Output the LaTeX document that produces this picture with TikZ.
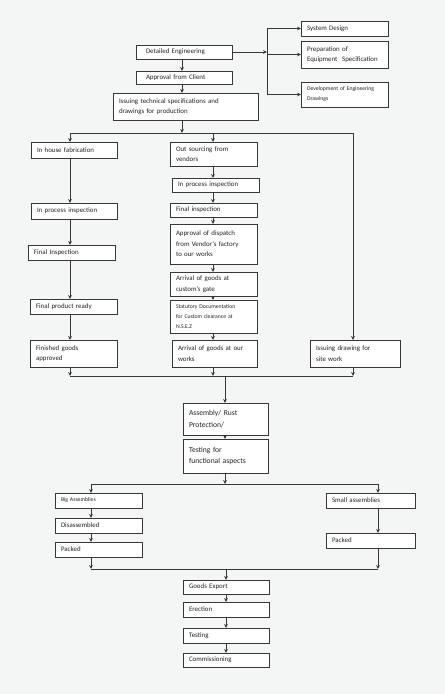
\documentclass[tikz,border=0pt]{standalone}
\usepackage{fontspec}
\setmainfont{Carlito}
\usetikzlibrary{arrows.meta}
\definecolor{bg}{RGB}{244,245,245}
\definecolor{lnc}{RGB}{55,55,55}
\definecolor{txc}{RGB}{35,35,35}
\tikzset{
  box/.style={draw=lnc, line width=0.7pt, fill=white, align=left, inner xsep=6pt,
    inner ysep=1pt, outer sep=0pt, font=\fontsize{6.9}{10.5}\selectfont, text=txc},
  smallfont/.style={font=\fontsize{5.7}{10}\selectfont},
  bigfont/.style={font=\fontsize{7.6}{11.5}\selectfont},
  wire/.style={draw=lnc, line width=0.7pt},
  arr/.style={draw=lnc, line width=0.7pt, -{Stealth[length=4pt,width=3.8pt]}}
}
\newcommand\bx[7][]{%
  \pgfmathsetmacro\bxw{#5-#3}%
  \pgfmathsetmacro\bxh{#6-#4}%
  \pgfmathsetmacro\bxt{\bxw-12}%
  \node[box,minimum width=\bxw pt,minimum height=\bxh pt,text width=\bxt pt,#1]
    (#2) at ({(#3+#5)/2},{(#4+#6)/2}) {#7};}
\begin{document}
\begin{tikzpicture}[x=1pt,y=-1pt]
\fill[bg] (0,0) rectangle (445,694);
\useasboundingbox (0,0) rectangle (445,694);

% top section
\bx{sd}{301}{21}{388}{36}{System Design}
\bx{prep}{301}{41}{388}{68}{Preparation of\\Equipment\ \ Specification}
\bx[smallfont]{dev}{301}{82}{388}{107}{Development of Engineering\\Drawings}
\bx[inner xsep=10pt]{de}{140}{45}{228}{59}{Detailed Engineering}
\bx[inner xsep=10pt]{app}{140}{71}{228}{84}{Approval from Client}
\bx{iss}{113}{93}{258}{120}{Issuing technical specifications and\\drawings for production}

% left column
\bx{ihf}{31}{142}{117}{158}{In house fabrication}
\bx{ipl}{31}{203}{117}{219}{In process inspection}
\bx{fil}{28}{245}{115}{260}{Final Inspection}
\bx{fpr}{30}{299}{117}{314}{Final product ready}
\bx{fga}{30}{340}{117}{367}{Finished goods\\approved}

% middle column
\bx{os}{170}{142}{257}{166}{Out sourcing from\\vendors}
\bx{ipm}{172}{178}{259}{192}{In process inspection}
\bx{fim}{170}{203}{257}{217}{Final inspection}
\bx{apd}{170}{224}{257}{264}{Approval of dispatch\\from Vendor’s factory\\to our works}
\bx{agc}{170}{272}{257}{296}{Arrival of goods at\\custom’s gate}
\bx[smallfont]{std}{170}{300}{257}{333}{Statutory Documentation\\for Custom clearance at\\N.S.E.Z}
\bx{aow}{172}{340}{257}{367}{Arrival of goods at our\\works}

% right
\bx{isite}{310}{340}{400}{367}{Issuing drawing for\\site work}

% centre
\bx[bigfont]{asm}{183}{403}{268}{435}{Assembly/ Rust\\Protection/}
\bx[bigfont]{tst}{183}{439}{268}{473}{Testing for\\functional aspects}

% packing
\bx[smallfont]{big}{55}{493}{142}{508}{Big Assemblies}
\bx{dis}{55}{518}{142}{533}{Disassembled}
\bx{pkl}{55}{542}{142}{557}{Packed}
\bx{sma}{326}{493}{415}{508}{Small assemblies}
\bx{pkr}{326}{533}{415}{548}{Packed}

% final
\bx{ge}{183}{580}{269}{594}{Goods Export}
\bx{ere}{183}{602}{269}{617}{Erection}
\bx{tes}{183}{628}{269}{643}{Testing}
\bx{com}{183}{653}{269}{667}{Commissioning}

% reference coordinates
\coordinate (vx) at (267,0);
\coordinate (cL) at (70,0);
\coordinate (cM) at (213,0);
\coordinate (cR) at (353,0);
\coordinate (cC) at (225,0);
\coordinate (cBL) at (91,0);
\coordinate (cBR) at (378,0);
\coordinate (b1) at (0,133);
\coordinate (b2) at (0,376);
\coordinate (b3) at (0,484);
\coordinate (b4) at (0,569);
\coordinate (cI) at (182,0);

% top connectors
\draw[arr] (de.east) -- (de.east -| vx);
\draw[wire] (sd.west -| vx) -- (dev.west -| vx);
\draw[arr] (sd.west -| vx) -- (sd.west);
\draw[arr] (prep.west -| vx) -- (prep.west);
\draw[arr] (dev.west -| vx) -- (dev.west);
\draw[arr] (de.south -| cI) -- (app.north -| cI);
\draw[arr] (app.south -| cI) -- (iss.north -| cI);
\draw[arr] (iss.south -| cI) -- (cI |- b1);

% bus 1
\draw[wire] (cL |- b1) -- (cR |- b1);
\draw[arr] (cL |- b1) -- (ihf.north -| cL);
\draw[arr] (cM |- b1) -- (os.north -| cM);
\draw[arr] (cR |- b1) -- (isite.north -| cR);

% left column
\draw[arr] (ihf.south -| cL) -- (ipl.north -| cL);
\draw[arr] (ipl.south -| cL) -- (fil.north -| cL);
\draw[arr] (fil.south -| cL) -- (fpr.north -| cL);
\draw[arr] (fpr.south -| cL) -- (fga.north -| cL);

% middle column
\draw[arr] (os.south -| cM) -- (ipm.north -| cM);
\draw[arr] (ipm.south -| cM) -- (fim.north -| cM);
\draw[arr] (fim.south -| cM) -- (apd.north -| cM);
\draw[arr] (apd.south -| cM) -- (agc.north -| cM);
\draw[arr] (agc.south -| cM) -- (std.north -| cM);
\draw[arr] (std.south -| cM) -- (aow.north -| cM);

% bus 2
\draw[arr] (fga.south -| cL) -- (cL |- b2);
\draw[arr] (aow.south -| cM) -- (cM |- b2);
\draw[arr] (isite.south -| cR) -- (cR |- b2);
\draw[wire] (cL |- b2) -- (cR |- b2);
\draw[arr] (cC |- b2) -- (asm.north -| cC);
\draw[arr] (asm.south -| cC) -- (tst.north -| cC);

% bus 3
\draw[arr] (tst.south -| cC) -- (cC |- b3);
\draw[wire] (cBL |- b3) -- (cBR |- b3);
\draw[arr] (cBL |- b3) -- (big.north -| cBL);
\draw[arr] (cBR |- b3) -- (sma.north -| cBR);
\draw[arr] (big.south -| cBL) -- (dis.north -| cBL);
\draw[arr] (dis.south -| cBL) -- (pkl.north -| cBL);
\draw[arr] (sma.south -| cBR) -- (pkr.north -| cBR);

% bus 4
\draw[arr] (pkl.south -| cBL) -- (cBL |- b4);
\draw[arr] (pkr.south -| cBR) -- (cBR |- b4);
\draw[wire] (cBL |- b4) -- (cBR |- b4);
\draw[arr] (ge.north |- b4) -- (ge.north);
\draw[arr] (ge.south) -- (ere.north);
\draw[arr] (ere.south) -- (tes.north);
\draw[arr] (tes.south) -- (com.north);
\end{tikzpicture}
\end{document}
